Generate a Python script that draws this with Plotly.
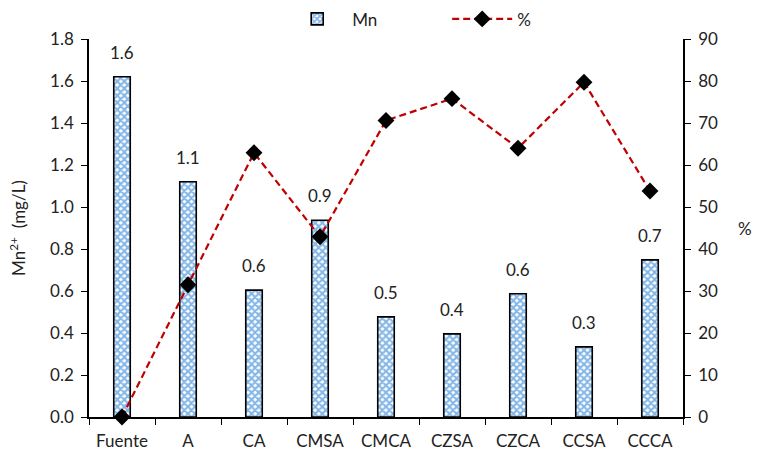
import plotly.graph_objects as go

# Sample sites and measurements
categories = ["Fuente", "A", "CA", "CMSA", "CMCA", "CZSA", "CZCA", "CCSA", "CCCA"]
mn_values = [1.62, 1.12, 0.604, 0.937, 0.477, 0.396, 0.587, 0.334, 0.748]
pct_values = [0.0, 31.5, 62.9, 42.9, 70.6, 75.8, 64.0, 79.7, 53.8]

FONT = "Lato, Open Sans, sans-serif"
FS = 17

fig = go.Figure()

fig.add_trace(go.Bar(
    x=categories, y=mn_values, name="Mn",
    width=0.25,
    marker=dict(
        color="white",
        line=dict(color="black", width=1.6),
        pattern=dict(shape="x", fgcolor="#0b6fd0", bgcolor="white", size=5, solidity=0.65),
    ),
    yaxis="y",
))

fig.add_trace(go.Scatter(
    x=categories, y=pct_values, name="%",
    mode="lines+markers",
    line=dict(color="#C00000", width=2.2, dash="7px,4px"),
    marker=dict(symbol="diamond", size=13, color="black"),
    yaxis="y2",
    cliponaxis=False,
))

# Value labels above the bars
for c, v in zip(categories, mn_values):
    fig.add_annotation(
        x=c, y=v, xref="x", yref="y", text=f"{v:.1f}",
        showarrow=False, yanchor="bottom", yshift=12,
        font=dict(size=FS, color="#222", family=FONT),
    )

# Right-axis title, drawn horizontally
fig.add_annotation(
    x=1.12, y=0.5, xref="paper", yref="paper", text="%",
    showarrow=False, font=dict(size=FS, color="#222", family=FONT),
)

fig.update_layout(
    width=769, height=454,
    margin=dict(l=89, r=86, t=39, b=37, autoexpand=False),
    plot_bgcolor="white", paper_bgcolor="white",
    font=dict(family=FONT, size=FS, color="#222"),
    showlegend=True,
    legend=dict(
        orientation="h", x=0.603, xanchor="center", y=1.052, yanchor="middle",
        font=dict(size=FS, family=FONT), itemwidth=60, traceorder="normal",
        bgcolor="rgba(0,0,0,0)", entrywidth=90,
    ),
    xaxis=dict(
        type="category", showline=True, linecolor="black", linewidth=1.5,
        ticks="outside", tickson="boundaries", ticklen=6, tickcolor="black",
        showgrid=False, tickfont=dict(size=FS), range=[-0.5, 8.5],
        ticklabelstandoff=8, automargin=False,
    ),
    yaxis=dict(
        range=[0, 1.8], dtick=0.2, tickformat=".1f",
        showline=True, linecolor="black", linewidth=1.5,
        ticks="outside", ticklen=6, tickcolor="black",
        showgrid=False, zeroline=False, tickfont=dict(size=FS),
        ticklabelstandoff=4, automargin=False,
        title=dict(text="Mn<sup>2+</sup>  (mg/L)", font=dict(size=FS), standoff=20),
    ),
    yaxis2=dict(
        range=[0, 90], dtick=10, overlaying="y", side="right",
        showline=True, linecolor="black", linewidth=1.5,
        ticks="outside", ticklen=6, tickcolor="black",
        showgrid=False, zeroline=False, tickfont=dict(size=FS),
        ticklabelstandoff=4, automargin=False,
    ),
)

fig.write_html("out.html")
